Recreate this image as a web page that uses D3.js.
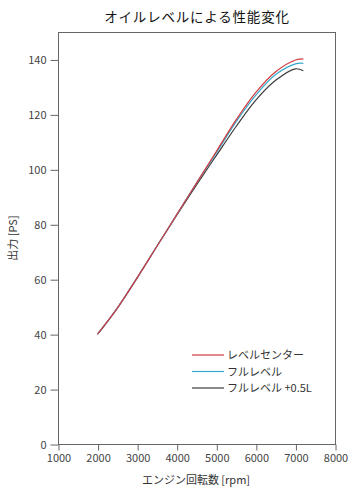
<!DOCTYPE html>
<html><head><meta charset="utf-8">
<script src="https://cdn.jsdelivr.net/npm/d3@7"></script>
<style>
body{margin:0;background:#fff;}
text{font-family:"Noto Sans CJK JP","Noto Sans",sans-serif;}
</style></head>
<body><svg id="c" width="359" height="502"></svg>
<script>
const rpm = [2000,2500,3000,3500,4000,4500,5000,5500,6000,6500,7000,7200];
const levelCenter = [40,49.5,60.5,72,83.5,95,106.5,118,128,135.5,139.8,140.2];
const fullLevel   = [40,49.5,60.5,72,83.5,95,106,117.3,127,134.5,138.4,138.6];
const fullPlus05  = [40,49.5,60.5,72,83.3,94.3,105,115.6,125.2,132.4,136.6,135.9];
const seriesNames = ["レベルセンター","フルレベル","フルレベル +0.5L"];
const seriesColors = ["#d23a3f","#35a9cc","#3c3c3c"];
const xTicks = [1000,2000,3000,4000,5000,6000,7000,8000];
const yTicks = [0,20,40,60,80,100,120,140];
const titleText = "オイルレベルによる性能変化";
const xLabel = "エンジン回転数 [rpm]";
const yLabel = "出力 [PS]";

const svg = d3.select("#c");
const m = {l:58, t:32, r:24, b:58};
const W = 359, H = 502;
const x = d3.scaleLinear().domain([1000,8000]).range([m.l, W-m.r]);
const y = d3.scaleLinear().domain([0,150]).range([H-m.b, m.t]);

svg.append("text").attr("x",197).attr("y",22).attr("text-anchor","middle")
  .attr("font-size",13.5).attr("font-weight",400).attr("letter-spacing",0.8)
  .attr("fill","#111").text(titleText);

svg.append("rect").attr("x",m.l+0.5).attr("y",m.t+0.5)
  .attr("width",W-m.r-m.l).attr("height",H-m.b-m.t)
  .attr("fill","none").attr("stroke","#666").attr("stroke-width",1);

const xa = svg.append("g").attr("transform",`translate(0.5,${H-m.b+0.5})`)
  .call(d3.axisBottom(x).tickValues(xTicks).tickFormat(d3.format("d")).tickSize(6).tickPadding(4));
const ya = svg.append("g").attr("transform",`translate(${m.l+0.5},0.5)`)
  .call(d3.axisLeft(y).tickValues(yTicks).tickSize(8).tickPadding(4));
[xa,ya].forEach(g=>{
  g.select(".domain").remove();
  g.selectAll("line").attr("stroke","#666");
  g.selectAll("text").attr("fill","#444").attr("font-size",11)
   .style("font-family","'Noto Sans CJK JP',sans-serif");
});

svg.append("text").attr("x",196).attr("y",484).attr("text-anchor","middle")
  .attr("font-size",11).attr("fill","#333").text(xLabel);
svg.append("text").attr("transform","translate(17,238) rotate(-90)").attr("text-anchor","middle")
  .attr("font-size",11).attr("fill","#333").text(yLabel);

const line = d3.line().x((d,i)=>x(rpm[i])).y(d=>y(d)).curve(d3.curveCatmullRom.alpha(0.5));
const data = [levelCenter, fullLevel, fullPlus05];
[2,1,0].forEach(k=>{
  svg.append("path").attr("d",line(data[k])).attr("fill","none")
    .attr("stroke",seriesColors[k]).attr("stroke-width",1.2);
});

const lg = svg.append("g");
seriesNames.forEach((n,i)=>{
  const yy = 355 + i*16.5;
  lg.append("line").attr("x1",192).attr("x2",224).attr("y1",yy).attr("y2",yy)
    .attr("stroke",seriesColors[i]).attr("stroke-width",1.2);
  lg.append("text").attr("x",227).attr("y",yy+4).attr("font-size",11).attr("fill","#333").text(n);
});
</script></body></html>
